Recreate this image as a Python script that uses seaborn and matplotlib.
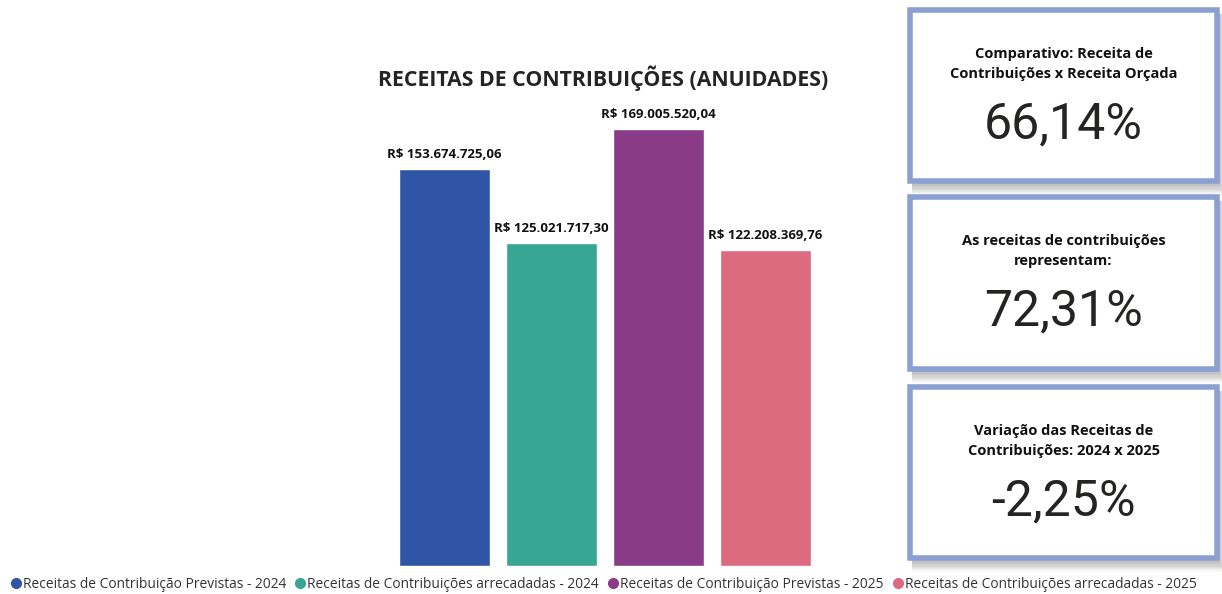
import numpy as np
import pandas as pd
import matplotlib
matplotlib.use("Agg")
import matplotlib.pyplot as plt
import seaborn as sns
from matplotlib.patches import Rectangle
from matplotlib.lines import Line2D

# data
categorias = [
    "Receitas de Contribuição Previstas - 2024",
    "Receitas de Contribuições arrecadadas - 2024",
    "Receitas de Contribuição Previstas - 2025",
    "Receitas de Contribuições arrecadadas - 2025",
]
valores = [153674725.06, 125021717.30, 169005520.04, 122208369.76]
rotulos = ["R$ 153.674.725,06", "R$ 125.021.717,30", "R$ 169.005.520,04", "R$ 122.208.369,76"]
cores = ["#3155A6", "#37A794", "#8A3B87", "#DD6B7F"]

kpi_titulos = [
    "Comparativo: Receita de\nContribuições x Receita Orçada",
    "As receitas de contribuições\nrepresentam:",
    "Variação das Receitas de\nContribuições: 2024 x 2025",
]
kpi_valores = ["66,14%", "72,31%", "-2,25%"]

sns.set_style("white")
plt.rcParams["font.family"] = ["Open Sans", "DejaVu Sans"]

W, H = 1222, 594
fig = plt.figure(figsize=(W / 100, H / 100), dpi=100)

df = pd.DataFrame({"cat": categorias, "val": valores})

# bar chart axes (pixel positions -> figure fractions)
ax_left, ax_right, ax_top, ax_bottom = 391, 819, 101, 566
ax = fig.add_axes([ax_left / W, 1 - ax_bottom / H, (ax_right - ax_left) / W, (ax_bottom - ax_top) / H])
sns.barplot(data=df, x="cat", y="val", hue="cat", palette=cores, width=0.85,
            legend=False, ax=ax, saturation=1)
ax.set_ylim(0, 180e6)
ax.set_xlim(-0.5, 3.5)
ax.axis("off")
for i, (v, r) in enumerate(zip(valores, rotulos)):
    ax.annotate(r, (i, v), xytext=(0, 6), textcoords="offset points",
                ha="center", va="bottom", fontsize=9.5, fontweight="bold", color="#111111")

fig.text(603 / W, 1 - 78 / H, "RECEITAS DE CONTRIBUIÇÕES (ANUIDADES)", ha="center", va="center",
         fontsize=15.3, fontweight="bold", color="#252423")

# legend
handles = [Line2D([0], [0], marker="o", linestyle="", markersize=7, markerfacecolor=c,
                  markeredgecolor=c) for c in cores]
fig.legend(handles, categorias, loc="center", bbox_to_anchor=(603 / W, 1 - 584 / H), ncol=4,
           frameon=False, fontsize=9.9, handletextpad=0.0, columnspacing=0.55,
           handlelength=1.0, labelcolor="#333333")

# KPI cards on an overlay axes in pixel coords
ov = fig.add_axes([0, 0, 1, 1], zorder=-1)
ov.set_xlim(0, W)
ov.set_ylim(H, 0)
ov.axis("off")

cards = [(910, 10, 1217, 181), (910, 197, 1217, 369), (910, 387, 1217, 558)]
for (x0, y0, x1, y1), t, v in zip(cards, kpi_titulos, kpi_valores):
    for k in range(8, 0, -1):
        ov.add_patch(Rectangle((x0 + 2, y0 + 4), x1 - x0 + k * 0.8, y1 - y0 + k * 1.2,
                               facecolor="#000000", alpha=0.03, edgecolor="none"))
    ov.add_patch(Rectangle((x0, y0), x1 - x0, y1 - y0, facecolor="white",
                           edgecolor="#8B9FD0", linewidth=4))
    cx = (x0 + x1) / 2
    ov.text(cx, y0 + 54, t, ha="center", va="center", fontsize=10.5, fontweight="bold",
            color="#111111", linespacing=1.5)
    ov.text(cx, y0 + 114, v, ha="center", va="center", fontsize=36,
            color="#252423", family=["Roboto", "DejaVu Sans"])

fig.savefig("out.png", dpi=100, facecolor="white")
